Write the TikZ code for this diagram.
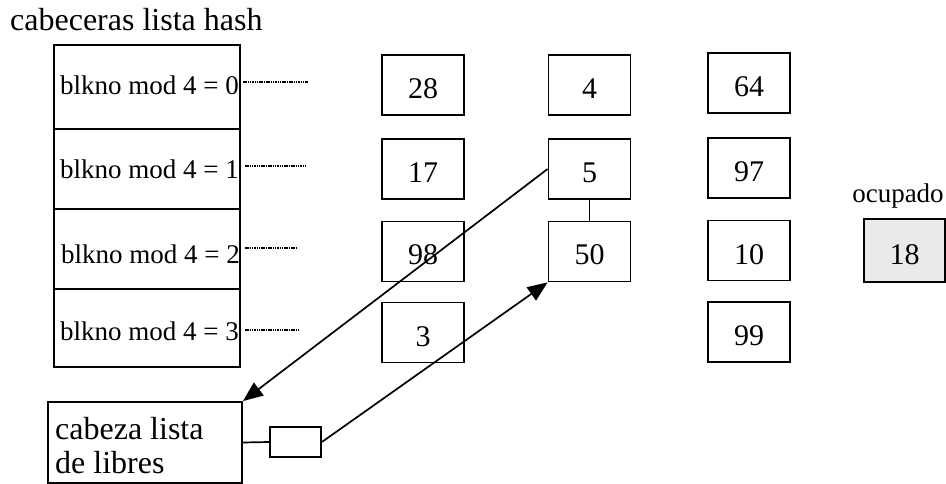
\documentclass[tikz,border=0pt]{standalone}
\usepackage{fontspec}
\setmainfont{Liberation Serif}
\usetikzlibrary{arrows.meta}
\definecolor{occ}{RGB}{234,234,234}
\begin{document}
\begin{tikzpicture}[x=1pt,y=-1pt,
  box/.style={draw,line width=1.8pt,inner sep=0pt},
  numbox/.style={box,minimum width=82pt,minimum height=60pt,font=\fontsize{30}{32}\selectfont,text height=27pt,text depth=0pt},
  hrow/.style={box,minimum width=186pt},
  lbl/.style={inner sep=0pt,font=\fontsize{27}{30}\selectfont},
  big/.style={inner sep=0pt,font=\fontsize{32}{34}\selectfont},
  dots/.style={line width=2pt,dash pattern=on 1.5pt off 0.8pt},
  conn/.style={line width=1.7pt},
  arr/.style={conn,-{Triangle[length=20pt,width=16pt]}}
]
\useasboundingbox (0,0) rectangle (946,484);
\node[big,anchor=base west] (title) at (10,31) {cabeceras lista hash};
% hash header table
\node[hrow,minimum height=84pt] (r0) at (147,87) {};
\node[hrow,minimum height=80pt] (r1) at (147,169) {};
\node[hrow,minimum height=80pt] (r2) at (147,249) {};
\node[hrow,minimum height=78pt] (r3) at (147,328) {};
\node[lbl,anchor=base east] (t0) at (239,95) {blkno mod 4 = 0};
\node[lbl,anchor=base east] (t1) at (239,179) {blkno mod 4 = 1};
\node[lbl,anchor=base east] (t2) at (240,263) {blkno mod 4 = 2};
\node[lbl,anchor=base east] (t3) at (239,340) {blkno mod 4 = 3};
\coordinate (d0s) at (243,82);  \coordinate (d0e) at (308,82);
\coordinate (d1s) at (245,166); \coordinate (d1e) at (305,166);
\coordinate (d2s) at (245,248); \coordinate (d2e) at (297,248);
\coordinate (d3s) at (245,330); \coordinate (d3e) at (300,330);
\draw[dots] (d0s) -- (d0e);
\draw[dots] (d1s) -- (d1e);
\draw[dots] (d2s) -- (d2e);
\draw[dots] (d3s) -- (d3e);
% buffer boxes
\node[numbox] (n28) at (423,85) {28};
\node[numbox] (n17) at (423,169) {17};
\node[numbox] (n98) at (423,251.5) {98};
\node[numbox] (n3) at (423,332.5) {3};
\node[numbox] (n4) at (589.5,85) {4};
\node[numbox] (n5) at (589.5,169) {5};
\node[numbox] (n50) at (589.5,251.5) {50};
\node[numbox] (n64) at (749,83) {64};
\node[numbox] (n97) at (749,168) {97};
\node[numbox] (n10) at (749,250.5) {10};
\node[numbox] (n99) at (749,332) {99};
\node[lbl,anchor=base] (ocup) at (898,203) {ocupado};
\node[numbox,minimum width=81pt,minimum height=63pt,fill=occ] (n18) at (904.5,250.5) {18};
% free list head
\node[box,minimum width=194pt,minimum height=81pt] (cab) at (145,442.5) {};
\node[big,anchor=base west] (cab1) at (55,439) {cabeza lista};
\node[big,anchor=base west] (cab2) at (55,473) {de libres};
\node[box,minimum width=51pt,minimum height=30pt] (sm) at (295.5,442) {};
% connectors
\draw[conn] (cab.east) -- (sm.west);
\draw[conn] (n5.south) -- (n50.north);
\draw[arr] (n5.west) -- (cab.north east);
\draw[arr] (sm.east) -- (n50.south west);
\end{tikzpicture}
\end{document}
